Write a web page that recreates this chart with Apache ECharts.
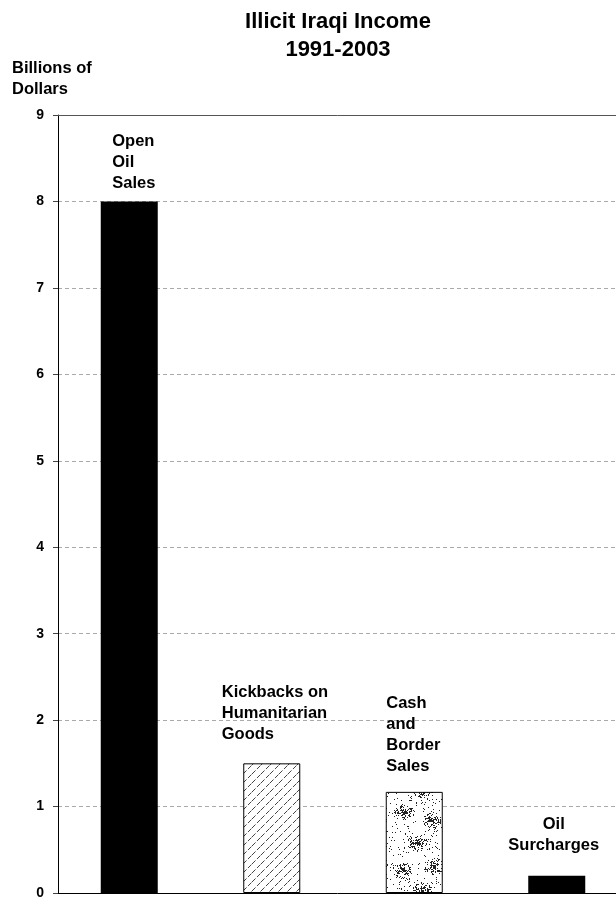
<!DOCTYPE html>
<html>
<head>
<meta charset="utf-8">
<script src="https://cdn.jsdelivr.net/npm/echarts@6/dist/echarts.min.js"></script>
<style>
  html, body { margin: 0; padding: 0; background: #fff; }
  #chart { width: 616px; height: 899px; }
</style>
</head>
<body>
<div id="chart"></div>
<script>
// data
var categories = ["Open\nOil\nSales", "Kickbacks on\nHumanitarian\nGoods", "Cash\nand\nBorder\nSales", "Oil\nSurcharges"];
var values = [8.0, 1.5, 1.17, 0.2];
var yTicks = [0, 1, 2, 3, 4, 5, 6, 7, 8, 9];

var FONT = "'Liberation Sans', Arial, sans-serif";

// diagonal dashed hatch texture
function hatchPattern() {
  var c = document.createElement("canvas");
  c.width = 9; c.height = 9;
  var ctx = c.getContext("2d");
  ctx.fillStyle = "#fff";
  ctx.fillRect(0, 0, 9, 9);
  ctx.strokeStyle = "#444";
  ctx.lineWidth = 1;
  ctx.setLineDash([5, 2]);
  ctx.beginPath();
  ctx.moveTo(0, 9); ctx.lineTo(9, 0);
  ctx.moveTo(-4.5, 4.5); ctx.lineTo(4.5, -4.5);
  ctx.moveTo(4.5, 13.5); ctx.lineTo(13.5, 4.5);
  ctx.stroke();
  return c;
}

// speckled texture (fixed seed so it is the same every run)
function speckPattern() {
  var c = document.createElement("canvas");
  c.width = 56; c.height = 100;
  var ctx = c.getContext("2d");
  ctx.fillStyle = "#fff";
  ctx.fillRect(0, 0, c.width, c.height);
  var s = 12345;
  function rnd() { s = (s * 1103515245 + 12345) % 2147483648; return s / 2147483648; }
  ctx.fillStyle = "#222";
  for (var i = 0; i < 280; i++) {
    ctx.fillRect(Math.floor(rnd() * 56), Math.floor(rnd() * 100), 1, 1);
  }
  var clusters = [[12, 12], [40, 20], [25, 42], [10, 70], [42, 66], [30, 90]];
  clusters.forEach(function (p) {
    for (var k = 0; k < 110; k++) {
      var a = rnd() * Math.PI * 2, r = rnd() * 8;
      ctx.fillRect(Math.round(p[0] + Math.cos(a) * r * 1.3), Math.round(p[1] + Math.sin(a) * r), 1, 1);
    }
  });
  return c;
}

var labelOffsets = [[-17, -7], [-50, -18], [-28, -15], [-3, -20]];
var labelAligns = ["left", "left", "left", "center"];
var fills = [
  "#000",
  { image: hatchPattern(), repeat: "repeat" },
  { image: speckPattern(), repeat: "repeat" },
  "#000"
];

var barData = values.map(function (v, i) {
  return {
    value: v,
    itemStyle: {
      color: fills[i],
      borderColor: "#000",
      borderWidth: i === 1 || i === 2 ? 1 : 0
    },
    label: {
      align: labelAligns[i],
      offset: labelOffsets[i]
    }
  };
});

var chart = echarts.init(document.getElementById("chart"));
chart.setOption({
  animation: false,
  backgroundColor: "#fff",
  title: [
    {
      text: "Illicit Iraqi Income\n1991-2003",
      left: 333,
      top: 3,
      textAlign: "center",
      textStyle: { fontFamily: FONT, fontSize: 22, fontWeight: "bold", color: "#000", lineHeight: 28 }
    },
    {
      text: "Billions of\nDollars",
      left: 12,
      top: 58,
      padding: 0,
      textStyle: { fontFamily: FONT, fontSize: 16.5, fontWeight: "bold", color: "#000", lineHeight: 21 }
    }
  ],
  grid: { left: 58, width: 570, top: 115, bottom: 6, outerBoundsMode: "none" },
  xAxis: [
    {
      type: "category",
      data: categories,
      axisLine: { show: true, lineStyle: { color: "#000", width: 1 } },
      axisTick: { show: false },
      axisLabel: { show: false }
    },
    {
      type: "category",
      position: "top",
      data: categories,
      axisLine: { show: true, lineStyle: { color: "#555", width: 1 } },
      axisTick: { show: false },
      axisLabel: { show: false }
    }
  ],
  yAxis: {
    type: "value",
    min: yTicks[0],
    max: yTicks[yTicks.length - 1],
    interval: 1,
    axisLine: { show: true, lineStyle: { color: "#000", width: 1 } },
    axisTick: { show: true, length: 5, lineStyle: { color: "#444" } },
    axisLabel: { margin: 14, fontFamily: FONT, fontSize: 14, fontWeight: "bold", color: "#000" },
    splitLine: { show: true, lineStyle: { color: "#aaa", type: [4, 3], width: 1 } }
  },
  series: [
    {
      type: "bar",
      data: barData,
      barWidth: 57,
      label: {
        show: true,
        position: "top",
        distance: 0,
        formatter: function (p) { return categories[p.dataIndex]; },
        fontFamily: FONT,
        fontSize: 16.5,
        fontWeight: "bold",
        color: "#000",
        lineHeight: 21
      }
    }
  ]
});
</script>
</body>
</html>
